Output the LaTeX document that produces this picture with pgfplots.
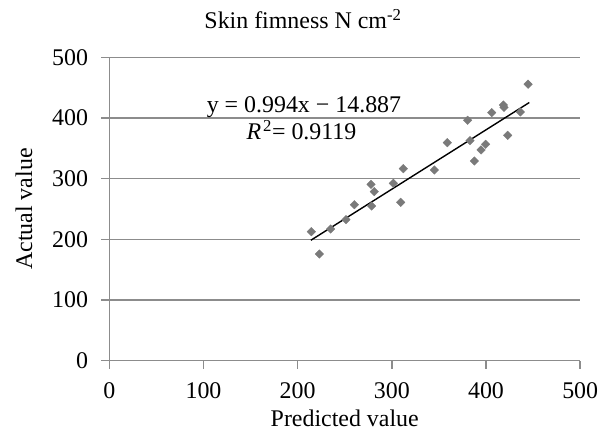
\documentclass[border=0pt]{standalone}
\usepackage{fontspec}
\setmainfont{Liberation Serif}
\usepackage{pgfplots}
\pgfplotsset{compat=1.18}
\definecolor{gridgray}{HTML}{8C8C8C}
\definecolor{markgray}{HTML}{7A7A7A}
\newcommand{\bigf}{\fontsize{24}{28}\selectfont}
\begin{document}
\begin{tikzpicture}
\path (-109.3bp,-71.3bp) rectangle (491.7bp,360.7bp);
\begin{axis}[
  at={(0,0)}, anchor=south west,
  scale only axis, width=470.9bp, height=303.4bp,
  xmin=0, xmax=500, ymin=0, ymax=500,
  xtick={0,100,...,500}, ytick={0,100,...,500},
  axis x line=bottom, axis y line=left,
  axis line style={-, draw=gridgray, line width=1.5bp},
  ymajorgrids, grid style={draw=gridgray, line width=1.5bp},
  major tick length=8bp, tick align=outside,
  tick style={draw=gridgray, line width=1.5bp},
  /pgf/number format/assume math mode=true,
  ticklabel style={font=\bigf, inner sep=0pt},
  xticklabel style={anchor=north, yshift=-14bp},
  yticklabel style={anchor=east, xshift=-13bp},
  clip=false,
]
\addplot[only marks, mark=square*, mark size=3bp, mark options={rotate=45, fill=markgray, draw=markgray}] coordinates {
(214.5,212.6) (223.0,175.8) (235.0,217.0) (251.3,232.4) (260.2,257.1)
(277.9,290.7) (281.4,278.6) (278.6,254.9) (301.6,292.3) (309.4,261.0)
(312.2,316.5) (345.1,314.3) (358.9,359.3) (380.5,396.2) (383.0,362.6)
(387.6,329.1) (394.7,347.3) (399.6,356.6) (406.0,408.8) (418.4,421.4)
(419.1,417.6) (423.0,371.4) (436.4,409.9) (444.6,455.6)
};
\addplot[black, line width=1.4bp] coordinates {(214,198.5) (446,425.5)};
\end{axis}
\node[font=\bigf, anchor=base] at (193.7bp,331.7bp) {Skin fimness N cm\textsuperscript{-2}};
\node[font=\bigf, rotate=90] at (-85.3bp,151.7bp) {Actual value};
\node[font=\bigf, anchor=base] at (235.45bp,-65.5bp) {Predicted value};
\node[font=\bigf, anchor=base] at (194.7bp,248bp) {y = 0.994x − 14.887};
\node[font=\bigf, anchor=base] at (192.2bp,220.7bp) {\textit{R}\kern2bp\textsuperscript{2}= 0.9119};
\end{tikzpicture}
\end{document}
